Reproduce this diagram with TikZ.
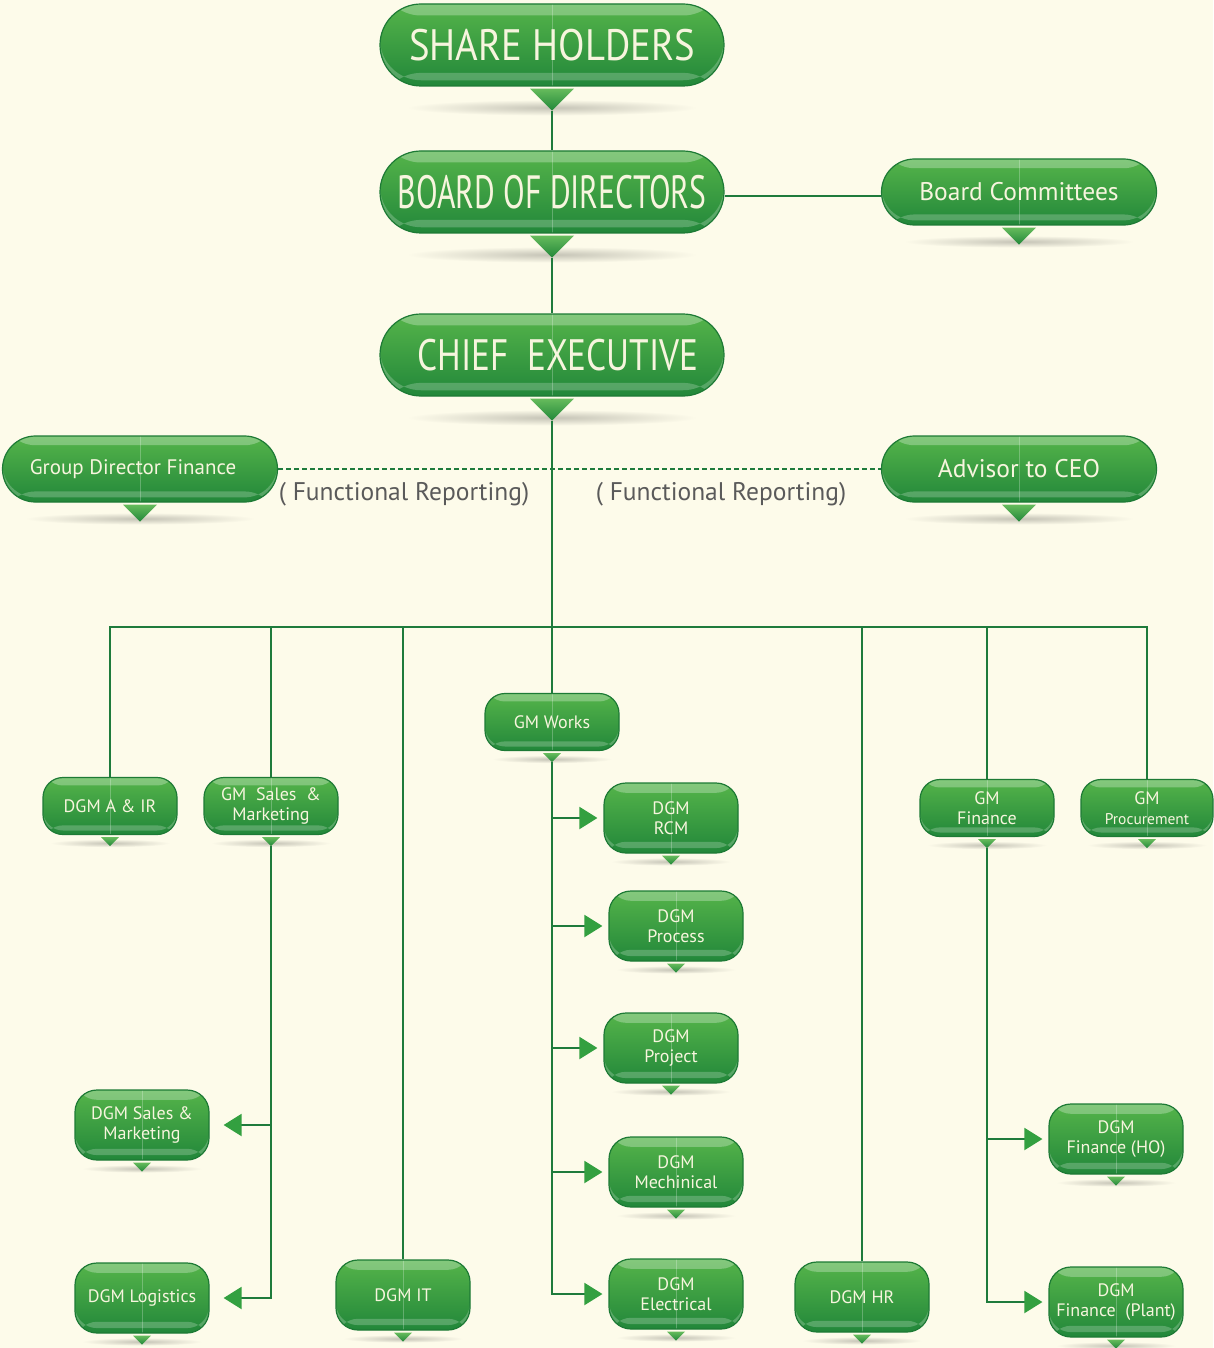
\documentclass[tikz,border=0pt]{standalone}
\usepackage{fontspec}
\setmainfont{PT Sans}
\usetikzlibrary{arrows.meta,calc}
\definecolor{bgc}{HTML}{FDFBEA}
\definecolor{gtop}{HTML}{55B44A}
\definecolor{gbot}{HTML}{22873A}
\definecolor{gedge}{HTML}{1D7A35}
\definecolor{lineg}{HTML}{1E7B3C}
\definecolor{tipg}{HTML}{33A040}
\definecolor{txt}{HTML}{F7F5DE}
\definecolor{graytxt}{HTML}{5A5A5A}
\tikzset{
 pill/.style={rectangle, inner sep=0pt, draw=gedge, line width=1.2pt, top color=gtop, bottom color=gbot, text=txt, align=center,
   path picture={
     \fill[white,opacity=.28] (path picture bounding box.north west) rectangle ($(path picture bounding box.north east)!0.14!(path picture bounding box.south east)$);
     \fill[white,opacity=.22] ($(path picture bounding box.north west)!0.84!(path picture bounding box.south west)$) rectangle ($(path picture bounding box.north east)!0.93!(path picture bounding box.south east)$);
     \draw[white,opacity=.25,line width=.8pt] (path picture bounding box.north) -- (path picture bounding box.south);
   }},
 bigpill/.style={pill, minimum width=344pt, minimum height=82pt, rounded corners=41pt, font=\fontsize{44}{44}\selectfont},
 midpill/.style={pill, minimum width=275pt, minimum height=66pt, rounded corners=33pt, font=\fontsize{25.5}{27}\selectfont},
 smallpill/.style={pill, minimum width=134pt, minimum height=57pt, rounded corners=20pt, font=\fontsize{18}{19.5}\selectfont},
 tallpill/.style={smallpill, minimum height=70pt, rounded corners=22pt},
 conn/.style={draw=lineg, line width=2pt},
 arr/.style={conn, -{Triangle[length=18pt,width=22pt,color=tipg]}, shorten >=6pt},
 lbl/.style={text=graytxt, font=\fontsize{25.5}{27}\selectfont, inner sep=0pt},
}
\begin{document}
\begin{tikzpicture}[x=1pt,y=-1pt]
\fill[bgc] (0,0) rectangle (1213,1348);
\useasboundingbox (0,0) rectangle (1213,1348);

\node[bigpill] (sh) at (552,45) {\scalebox{0.88}[1]{SHARE HOLDERS}};
\node[bigpill] (bod) at (552,192) {\scalebox{0.72}[1.06]{BOARD OF DIRECTORS}};
\node[midpill] (bc) at (1019,192) {Board Committees};
\node[bigpill] (ce) at (552,355) {\hspace*{12pt}\scalebox{0.8}[1]{CHIEF\ \ EXECUTIVE}};
\node[midpill, font=\fontsize{21}{24}\selectfont] (gdf) at (140,469) {Group Director Finance\hspace*{14pt}};
\node[midpill] (adv) at (1019,469) {Advisor to CEO};
\node[lbl] (fr1) at (404,494) {( Functional Reporting)};
\node[lbl] (fr2) at (721,494) {( Functional Reporting)};
\node[smallpill] (gmw) at (552,722) {GM Works};
\node[smallpill] (dair) at (110,806) {DGM A \& IR};
\node[smallpill] (gmsm) at (271,806) {GM\ \ Sales\ \ \&\\Marketing};
\node[smallpill] (gmf) at (987,808) {GM\\Finance};
\node[smallpill, minimum width=132pt] (gmp) at (1147,808) {GM\\{\fontsize{15.5}{19}\selectfont Procurement}};
\node[tallpill] (rcm) at (671,818) {DGM\\RCM};
\node[tallpill] (proc) at (676,926) {DGM\\Process};
\node[tallpill] (proj) at (671,1048) {DGM\\Project};
\node[tallpill] (mech) at (676,1172) {DGM\\Mechinical};
\node[tallpill] (elec) at (676,1294) {DGM\\Electrical};
\node[tallpill] (dsm) at (142,1125) {DGM Sales \&\\Marketing};
\node[tallpill] (dlog) at (142,1298) {DGM Logistics};
\node[tallpill] (dit) at (403,1295) {DGM IT};
\node[tallpill] (dhr) at (862,1297) {DGM HR};
\node[tallpill] (fho) at (1116,1139) {DGM\\Finance (HO)};
\node[tallpill] (fpl) at (1116,1302) {DGM\\Finance\ \ (Plant)};

\foreach \n/\tw/\th/\sw/\sh in {sh/44/22/290/16, bod/44/22/290/16, ce/44/22/290/16,
  bc/34/17/230/12, gdf/34/17/230/12, adv/34/17/230/12,
  gmw/18/9/120/8, dair/18/9/120/8, gmsm/18/9/120/8, gmf/18/9/120/8, gmp/18/9/120/8,
  rcm/18/9/120/8, proc/18/9/120/8, proj/18/9/120/8, mech/18/9/120/8, elec/18/9/120/8,
  dsm/18/9/120/8, dlog/18/9/120/8, dit/18/9/120/8, dhr/18/9/120/8, fho/18/9/120/8, fpl/18/9/120/8}
{
 \coordinate (\n-tip) at ($(\n.south)+(0,2+\th)$);
 \shade[inner color=black!22!bgc, outer color=bgc] ($(\n.south)+(0,\th-1)$) ellipse [x radius=\sw/2, y radius=\sh/2];
 \shade[top color=gtop!90!white, bottom color=gbot] ($(\n.south)+(-\tw/2,2)$) -- ($(\n.south)+(\tw/2,2)$) -- (\n-tip) -- cycle;
}

\draw[conn] (sh-tip) -- (bod.north);
\draw[conn] ([yshift=-4pt]bod.east) -- ([yshift=-4pt]bc.west);
\draw[conn] (bod-tip) -- (ce.north);
\draw[conn] (ce-tip) -- (gmw.north);
\draw[conn, line width=1.4pt, dash pattern=on 5pt off 3pt] (gdf.east) -- (adv.west);
\coordinate (bus) at (552,627);
\draw[conn] (dair.north) -- (dair.north |- bus) -- (gmp.north |- bus) -- (gmp.north);
\foreach \n in {gmsm, dit, dhr, gmf} \draw[conn] (\n.north) -- (\n.north |- bus);

\draw[arr, shorten >=14pt] (gmsm-tip) |- (dlog.east);
\draw[arr, shorten >=14pt] (gmsm-tip |- dsm.east) -- (dsm.east);
\draw[arr] (gmw-tip) |- (elec.west);
\foreach \n in {rcm,proc,proj,mech} \draw[arr] (gmw-tip |- \n.west) -- (\n.west);
\draw[arr] (gmf-tip) |- (fpl.west);
\draw[arr] (gmf-tip |- fho.west) -- (fho.west);
\end{tikzpicture}
\end{document}
